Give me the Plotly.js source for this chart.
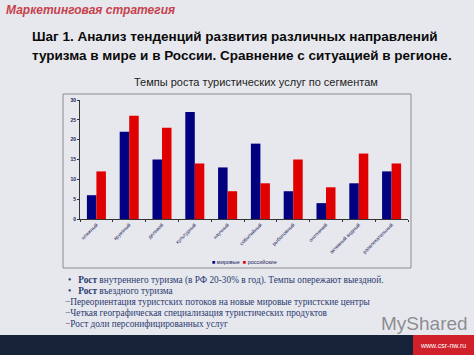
<!DOCTYPE html>
<html><head><meta charset="utf-8">
<script src="https://cdn.plot.ly/plotly-3.0.1.min.js"></script>
<style>html,body{margin:0;padding:0;background:#e6e8ee;}</style>
</head><body>
<div id="chart" style="width:474px;height:355px;"></div>
<script>
var categories = ["пляжный","круизный","деловой","культурный","научный","событийный","рыболовный","охотничий","активный водный","развлекательный"];
var worldValues = [6, 22, 15, 27, 13, 19, 7, 4, 9, 12];
var russiaValues = [12, 26, 23, 14, 7, 9, 15, 8, 16.5, 14];
var seriesNames = ["мировые", "российские"];
var seriesColors = ["#000080", "#e00000"];
var yTicks = [0, 5, 10, 15, 20, 25, 30];

var W = 474, H = 355;
function px(x){return x/W;}
function py(y){return 1 - y/H;}

var traces = [
  {type:"bar", name:seriesNames[0], x:categories, y:worldValues, marker:{color:seriesColors[0]}},
  {type:"bar", name:seriesNames[1], x:categories, y:russiaValues, marker:{color:seriesColors[1]}}
];

var bulletFont = {family:"Liberation Serif", size:9.3, color:"#2b3a6e"};
var bullets = [
  {x:66, y:280, t:"•&nbsp;&nbsp;&nbsp;<b>Рост</b> внутреннего туризма (в РФ 20-30% в год). Темпы опережают выездной."},
  {x:66, y:291, t:"•&nbsp;&nbsp;&nbsp;<b>Рост</b> въездного туризма"},
  {x:63, y:302, t:"−Переориентация туристских потоков на новые мировые туристские центры"},
  {x:63, y:313, t:"−Четкая географическая специализация туристических продуктов"},
  {x:63, y:324, t:"−Рост доли персонифицированных услуг"}
];

var legendText = "<span style='color:" + seriesColors[0] + "'>■</span> " + seriesNames[0] +
  "  <span style='color:" + seriesColors[1] + "'>■</span> " + seriesNames[1];

var annotations = [
  {xref:"paper", yref:"paper", x:px(4), y:py(10), xanchor:"left", yanchor:"middle", showarrow:false,
   text:"<b><i>Маркетинговая стратегия</i></b>", font:{family:"Liberation Sans, Arial, sans-serif", size:12, color:"#c8414b"}},
  {xref:"paper", yref:"paper", x:px(30), y:py(37), xanchor:"left", yanchor:"middle", showarrow:false,
   text:"<b>Шаг 1. Анализ тенденций развития различных направлений</b>", font:{family:"Liberation Sans, Arial, sans-serif", size:13.5, color:"#0a0a0a"}},
  {xref:"paper", yref:"paper", x:px(30), y:py(55), xanchor:"left", yanchor:"middle", showarrow:false,
   text:"<b>туризма в мире и в России. Сравнение с ситуацией в регионе.</b>", font:{family:"Liberation Sans, Arial, sans-serif", size:13.5, color:"#0a0a0a"}},
  {xref:"paper", yref:"paper", x:px(256), y:py(82), xanchor:"center", yanchor:"middle", showarrow:false,
   text:"Темпы роста туристических услуг по сегментам", font:{family:"Liberation Sans, Arial, sans-serif", size:11, color:"#222"}},
  {xref:"paper", yref:"paper", x:px(244), y:py(262), xanchor:"center", yanchor:"middle", showarrow:false,
   text:legendText, font:{family:"Liberation Sans, Arial, sans-serif", size:5.5, color:"#1a1a5a"}},
  {xref:"paper", yref:"paper", x:px(443), y:py(345), xanchor:"center", yanchor:"middle", showarrow:false,
   text:"www.csr-nw.ru", font:{family:"Liberation Sans, Arial, sans-serif", size:7, color:"#ffffff"}},
  {xref:"paper", yref:"paper", x:px(470), y:py(323), xanchor:"right", yanchor:"middle", showarrow:false,
   text:"MyShared", font:{family:"Liberation Sans, Arial, sans-serif", size:19, color:"rgba(110,110,110,0.75)"}}
];
bullets.forEach(function(b){
  annotations.push({xref:"paper", yref:"paper", x:px(b.x), y:py(b.y), xanchor:"left", yanchor:"middle", showarrow:false, text:b.t, font:bulletFont});
});

var shapes = [
  {type:"rect", xref:"paper", yref:"paper", x0:px(63), x1:px(411), y0:py(268), y1:py(94), line:{color:"#8c8c8c", width:1}, fillcolor:"rgba(0,0,0,0)", layer:"below"},
  {type:"rect", xref:"paper", yref:"paper", x0:0, x1:1, y0:0, y1:py(335), line:{width:0}, fillcolor:"#152238", layer:"below"},
  {type:"rect", xref:"paper", yref:"paper", x0:px(413), x1:1, y0:0, y1:py(335), line:{width:0}, fillcolor:"#d0202a", layer:"below"}
];

var tickFont = {family:"Liberation Sans, Arial, sans-serif", size:5, color:"#1a1a5a"};
var layout = {
  width:W, height:H,
  margin:{l:0, r:0, t:0, b:0},
  paper_bgcolor:"#e6e8ee", plot_bgcolor:"rgba(0,0,0,0)",
  barmode:"group", bargap:0.42, bargroupgap:0,
  showlegend:false,
  xaxis:{domain:[px(80), px(408)], showline:true, linecolor:"#333", linewidth:1,
    ticks:"outside", ticklen:2, tickcolor:"#333", tickson:"boundaries",
    tickangle:-45, tickfont:tickFont, showgrid:false, fixedrange:true},
  yaxis:{domain:[py(219), py(100)], range:[0,30], tickvals:yTicks, showline:true, linecolor:"#333", linewidth:1,
    ticks:"outside", ticklen:2, tickcolor:"#333", showgrid:false, zeroline:false,
    tickfont:{family:"Liberation Sans, Arial, sans-serif", size:5, color:"#1a1a5a", weight:"bold"}, fixedrange:true},
  annotations:annotations,
  shapes:shapes
};
Plotly.newPlot("chart", traces, layout, {displayModeBar:false, staticPlot:true});
</script>
</body></html>
